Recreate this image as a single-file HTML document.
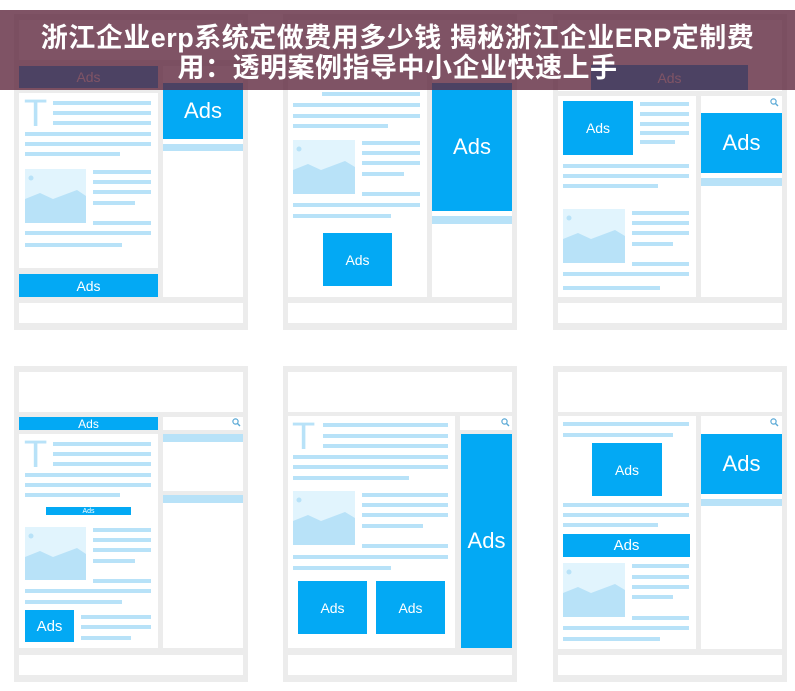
<!DOCTYPE html>
<html><head><meta charset="utf-8"><style>
body{margin:0;width:795px;height:691px;background:#fff;position:relative;overflow:hidden;font-family:"Liberation Sans","DejaVu Sans",sans-serif}
div{position:absolute;box-sizing:border-box}
.g{background:#ececec}.w{background:#fff}
.b{background:#03a9f4;color:#fff;display:flex;align-items:center;justify-content:center}
.l{background:#b8e2f8;height:4px}
.lb{background:#b8e2f8}
.im{background:#e1f4fd}
.im svg{display:block}
.T{color:#b8e2f8;font-size:38px;line-height:28px;font-family:"Liberation Sans",sans-serif}
#ban{left:0;top:10px;width:795px;height:80px;background:rgba(95,40,62,0.8);color:#fff;font-weight:bold;font-size:27px;line-height:30px;text-align:center;padding-top:13px;font-family:"Liberation Sans","Noto Sans CJK SC",sans-serif;letter-spacing:0.5px}
</style></head><body>
<div class="g" style="left:14px;top:14px;width:234px;height:316px"></div>
<div class="g" style="left:283px;top:14px;width:234px;height:316px"></div>
<div class="g" style="left:553px;top:14px;width:234px;height:316px"></div>
<div class="g" style="left:14px;top:366px;width:234px;height:316px"></div>
<div class="g" style="left:283px;top:366px;width:234px;height:316px"></div>
<div class="g" style="left:553px;top:366px;width:234px;height:316px"></div>

<!-- TOP LEFT -->
<div class="w" style="left:19px;top:20px;width:224px;height:40px"></div>
<div class="b" style="left:19px;top:66px;width:139px;height:22px;font-size:14px">Ads</div>
<div class="w" style="left:19px;top:93px;width:139px;height:175px"></div>
<div class="b" style="left:19px;top:274px;width:139px;height:23px;font-size:14px">Ads</div>
<div class="w" style="left:163px;top:66px;width:80px;height:231px"></div>
<div class="b" style="left:163px;top:83px;width:80px;height:56px;font-size:22px">Ads</div>
<div class="lb" style="left:163px;top:144px;width:80px;height:7px"></div>
<div class="w" style="left:19px;top:303px;width:224px;height:20px"></div>
<div class="T" style="left:24px;top:100px">T</div>
<div class="l" style="left:53px;top:101px;width:98px"></div>
<div class="l" style="left:53px;top:111px;width:98px"></div>
<div class="l" style="left:53px;top:121px;width:98px"></div>
<div class="l" style="left:25px;top:132px;width:126px"></div>
<div class="l" style="left:25px;top:142px;width:126px"></div>
<div class="l" style="left:25px;top:152px;width:95px"></div>
<div class="im" style="left:25px;top:169px;width:61px;height:54px"><svg width="61" height="54"><circle cx="6" cy="9" r="2.5" fill="#b8e2f8"/><polygon points="0,30 15,24 28,30 52,21 61,27 61,54 0,54" fill="#b8e2f8"/></svg></div>
<div class="l" style="left:93px;top:170px;width:58px"></div>
<div class="l" style="left:93px;top:180px;width:58px"></div>
<div class="l" style="left:93px;top:190px;width:58px"></div>
<div class="l" style="left:93px;top:201px;width:42px"></div>
<div class="l" style="left:93px;top:221px;width:58px"></div>
<div class="l" style="left:25px;top:231px;width:126px"></div>
<div class="l" style="left:25px;top:243px;width:97px"></div>

<!-- TOP MIDDLE -->
<div class="w" style="left:288px;top:20px;width:224px;height:40px"></div>
<div class="w" style="left:288px;top:66px;width:139px;height:231px"></div>
<div class="w" style="left:432px;top:66px;width:80px;height:231px"></div>
<div class="b" style="left:432px;top:83px;width:80px;height:128px;font-size:22px">Ads</div>
<div class="lb" style="left:432px;top:216px;width:80px;height:8px"></div>
<div class="w" style="left:288px;top:303px;width:224px;height:20px"></div>
<div class="l" style="left:322px;top:92px;width:98px"></div>
<div class="l" style="left:293px;top:103px;width:127px"></div>
<div class="l" style="left:293px;top:114px;width:127px"></div>
<div class="l" style="left:293px;top:124px;width:95px"></div>
<div class="im" style="left:293px;top:140px;width:62px;height:54px"><svg width="62" height="54"><circle cx="6" cy="9" r="2.5" fill="#b8e2f8"/><polygon points="0,30 15,24 28,30 52,21 62,27 62,54 0,54" fill="#b8e2f8"/></svg></div>
<div class="l" style="left:362px;top:141px;width:58px"></div>
<div class="l" style="left:362px;top:151px;width:58px"></div>
<div class="l" style="left:362px;top:161px;width:58px"></div>
<div class="l" style="left:362px;top:172px;width:42px"></div>
<div class="l" style="left:362px;top:192px;width:58px"></div>
<div class="l" style="left:293px;top:203px;width:127px"></div>
<div class="l" style="left:293px;top:214px;width:98px"></div>
<div class="b" style="left:323px;top:233px;width:69px;height:53px;font-size:14px">Ads</div>

<!-- TOP RIGHT -->
<div class="w" style="left:558px;top:20px;width:224px;height:71px"></div>
<div class="b" style="left:591px;top:65px;width:157px;height:25px;font-size:14px">Ads</div>
<div class="w" style="left:558px;top:96px;width:138px;height:201px"></div>
<div class="w" style="left:701px;top:96px;width:81px;height:201px"></div>
<svg style="position:absolute;left:770px;top:98px" width="9" height="9"><circle cx="3.5" cy="3.5" r="2.6" fill="none" stroke="#5aa9d6" stroke-width="1.2"/><line x1="5.5" y1="5.5" x2="8" y2="8" stroke="#5aa9d6" stroke-width="1.4"/></svg>
<div class="b" style="left:563px;top:101px;width:70px;height:54px;font-size:14px">Ads</div>
<div class="l" style="left:640px;top:102px;width:49px"></div>
<div class="l" style="left:640px;top:112px;width:49px"></div>
<div class="l" style="left:640px;top:122px;width:49px"></div>
<div class="l" style="left:640px;top:131px;width:49px"></div>
<div class="l" style="left:640px;top:140px;width:35px"></div>
<div class="l" style="left:563px;top:164px;width:126px"></div>
<div class="l" style="left:563px;top:174px;width:126px"></div>
<div class="l" style="left:563px;top:184px;width:95px"></div>
<div class="im" style="left:563px;top:209px;width:62px;height:54px"><svg width="62" height="54"><circle cx="6" cy="9" r="2.5" fill="#b8e2f8"/><polygon points="0,30 15,24 28,30 52,21 62,27 62,54 0,54" fill="#b8e2f8"/></svg></div>
<div class="l" style="left:632px;top:211px;width:57px"></div>
<div class="l" style="left:632px;top:221px;width:57px"></div>
<div class="l" style="left:632px;top:231px;width:57px"></div>
<div class="l" style="left:632px;top:242px;width:41px"></div>
<div class="l" style="left:632px;top:262px;width:57px"></div>
<div class="l" style="left:563px;top:272px;width:126px"></div>
<div class="l" style="left:563px;top:286px;width:97px"></div>
<div class="b" style="left:701px;top:113px;width:81px;height:60px;font-size:22px">Ads</div>
<div class="lb" style="left:701px;top:178px;width:81px;height:8px"></div>
<div class="w" style="left:558px;top:303px;width:224px;height:20px"></div>

<!-- BOTTOM LEFT -->
<div class="w" style="left:19px;top:372px;width:224px;height:40px"></div>
<div class="b" style="left:19px;top:417px;width:139px;height:13px;font-size:12px">Ads</div>
<div class="w" style="left:19px;top:434px;width:139px;height:214px"></div>
<div class="w" style="left:163px;top:417px;width:80px;height:13px"></div>
<svg style="position:absolute;left:232px;top:418px" width="9" height="9"><circle cx="3.5" cy="3.5" r="2.6" fill="none" stroke="#5aa9d6" stroke-width="1.2"/><line x1="5.5" y1="5.5" x2="8" y2="8" stroke="#5aa9d6" stroke-width="1.4"/></svg>
<div class="w" style="left:163px;top:434px;width:80px;height:57px"></div>
<div class="lb" style="left:163px;top:434px;width:80px;height:8px"></div>
<div class="w" style="left:163px;top:495px;width:80px;height:153px"></div>
<div class="lb" style="left:163px;top:495px;width:80px;height:8px"></div>
<div class="w" style="left:19px;top:655px;width:224px;height:20px"></div>
<div class="T" style="left:24px;top:441px">T</div>
<div class="l" style="left:53px;top:442px;width:98px"></div>
<div class="l" style="left:53px;top:452px;width:98px"></div>
<div class="l" style="left:53px;top:462px;width:98px"></div>
<div class="l" style="left:25px;top:473px;width:126px"></div>
<div class="l" style="left:25px;top:483px;width:126px"></div>
<div class="l" style="left:25px;top:493px;width:95px"></div>
<div class="b" style="left:46px;top:507px;width:85px;height:8px;font-size:7px">Ads</div>
<div class="im" style="left:25px;top:527px;width:61px;height:53px"><svg width="61" height="53"><circle cx="6" cy="9" r="2.5" fill="#b8e2f8"/><polygon points="0,30 15,24 28,30 52,21 61,27 61,53 0,53" fill="#b8e2f8"/></svg></div>
<div class="l" style="left:93px;top:528px;width:58px"></div>
<div class="l" style="left:93px;top:538px;width:58px"></div>
<div class="l" style="left:93px;top:548px;width:58px"></div>
<div class="l" style="left:93px;top:559px;width:42px"></div>
<div class="l" style="left:93px;top:579px;width:58px"></div>
<div class="l" style="left:25px;top:589px;width:126px"></div>
<div class="l" style="left:25px;top:600px;width:97px"></div>
<div class="b" style="left:25px;top:610px;width:49px;height:32px;font-size:15px">Ads</div>
<div class="l" style="left:81px;top:615px;width:70px"></div>
<div class="l" style="left:81px;top:625px;width:70px"></div>
<div class="l" style="left:81px;top:636px;width:50px"></div>

<!-- BOTTOM MIDDLE -->
<div class="w" style="left:288px;top:372px;width:224px;height:40px"></div>
<div class="w" style="left:288px;top:416px;width:167px;height:232px"></div>
<div class="w" style="left:460px;top:416px;width:52px;height:14px"></div>
<svg style="position:absolute;left:501px;top:418px" width="9" height="9"><circle cx="3.5" cy="3.5" r="2.6" fill="none" stroke="#5aa9d6" stroke-width="1.2"/><line x1="5.5" y1="5.5" x2="8" y2="8" stroke="#5aa9d6" stroke-width="1.4"/></svg>
<div class="b" style="left:461px;top:434px;width:51px;height:214px;font-size:22px">Ads</div>
<div class="w" style="left:288px;top:655px;width:224px;height:20px"></div>
<div class="T" style="left:292px;top:423px">T</div>
<div class="l" style="left:323px;top:423px;width:125px"></div>
<div class="l" style="left:323px;top:434px;width:125px"></div>
<div class="l" style="left:323px;top:444px;width:125px"></div>
<div class="l" style="left:293px;top:455px;width:155px"></div>
<div class="l" style="left:293px;top:465px;width:155px"></div>
<div class="l" style="left:293px;top:476px;width:116px"></div>
<div class="im" style="left:293px;top:491px;width:62px;height:54px"><svg width="62" height="54"><circle cx="6" cy="9" r="2.5" fill="#b8e2f8"/><polygon points="0,30 15,24 28,30 52,21 62,27 62,54 0,54" fill="#b8e2f8"/></svg></div>
<div class="l" style="left:362px;top:493px;width:86px"></div>
<div class="l" style="left:362px;top:503px;width:86px"></div>
<div class="l" style="left:362px;top:513px;width:86px"></div>
<div class="l" style="left:362px;top:524px;width:61px"></div>
<div class="l" style="left:362px;top:544px;width:86px"></div>
<div class="l" style="left:293px;top:555px;width:155px"></div>
<div class="l" style="left:293px;top:566px;width:98px"></div>
<div class="b" style="left:298px;top:581px;width:69px;height:53px;font-size:14px">Ads</div>
<div class="b" style="left:376px;top:581px;width:69px;height:53px;font-size:14px">Ads</div>

<!-- BOTTOM RIGHT -->
<div class="w" style="left:558px;top:372px;width:224px;height:40px"></div>
<div class="w" style="left:558px;top:416px;width:138px;height:233px"></div>
<div class="w" style="left:701px;top:416px;width:81px;height:233px"></div>
<svg style="position:absolute;left:770px;top:418px" width="9" height="9"><circle cx="3.5" cy="3.5" r="2.6" fill="none" stroke="#5aa9d6" stroke-width="1.2"/><line x1="5.5" y1="5.5" x2="8" y2="8" stroke="#5aa9d6" stroke-width="1.4"/></svg>
<div class="b" style="left:701px;top:434px;width:81px;height:60px;font-size:22px">Ads</div>
<div class="lb" style="left:701px;top:499px;width:81px;height:7px"></div>
<div class="l" style="left:563px;top:422px;width:126px"></div>
<div class="l" style="left:563px;top:433px;width:110px"></div>
<div class="b" style="left:592px;top:443px;width:70px;height:53px;font-size:14px">Ads</div>
<div class="l" style="left:563px;top:503px;width:126px"></div>
<div class="l" style="left:563px;top:513px;width:126px"></div>
<div class="l" style="left:563px;top:523px;width:95px"></div>
<div class="b" style="left:563px;top:534px;width:127px;height:23px;font-size:15px">Ads</div>
<div class="im" style="left:563px;top:563px;width:62px;height:54px"><svg width="62" height="54"><circle cx="6" cy="9" r="2.5" fill="#b8e2f8"/><polygon points="0,30 15,24 28,30 52,21 62,27 62,54 0,54" fill="#b8e2f8"/></svg></div>
<div class="l" style="left:632px;top:564px;width:57px"></div>
<div class="l" style="left:632px;top:575px;width:57px"></div>
<div class="l" style="left:632px;top:585px;width:57px"></div>
<div class="l" style="left:632px;top:595px;width:41px"></div>
<div class="l" style="left:632px;top:616px;width:57px"></div>
<div class="l" style="left:563px;top:626px;width:126px"></div>
<div class="l" style="left:563px;top:637px;width:97px"></div>
<div class="w" style="left:558px;top:655px;width:224px;height:20px"></div>

<div id="ban">浙江企业erp系统定做费用多少钱 揭秘浙江企业ERP定制费<br>用：透明案例指导中小企业快速上手</div>
</body></html>
